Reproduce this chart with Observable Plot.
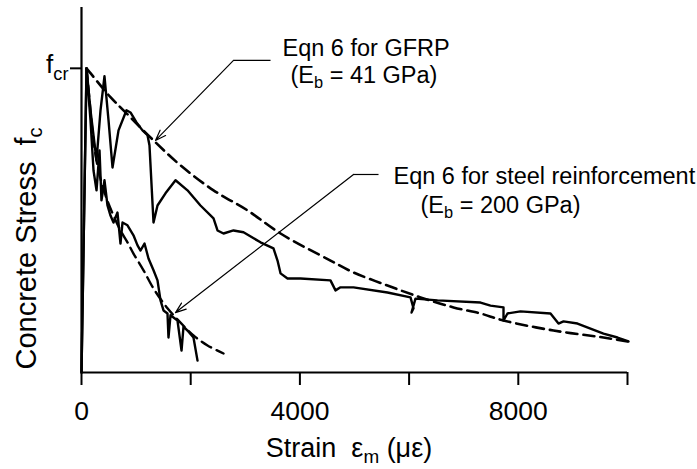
<!DOCTYPE html>
<html>
<head>
<meta charset="utf-8">
<script src="https://cdn.jsdelivr.net/npm/d3@7"></script>
<script src="https://cdn.jsdelivr.net/npm/@observablehq/plot@0.6"></script>
<style>
  html, body { margin: 0; padding: 0; background: white; }
  svg text { white-space: pre; }
</style>
</head>
<body>
<div id="chart"></div>
<script>
// Strain (microstrain), normalized concrete stress f_c / f_cr
const gfrpTest = [
  [0,0],[92,1.0],[165,0.862],[275,0.697],[348,0.862],[421,0.974],[495,0.829],[568,0.674],
  [678,0.796],[824,0.862],[897,0.855],[1007,0.822],[1117,0.796],[1209,0.780],[1245,0.747],
  [1319,0.493],[1392,0.549],[1538,0.589],[1722,0.632],[1941,0.599],[2179,0.549],[2418,0.507],
  [2491,0.467],[2601,0.457],[2784,0.467],[2967,0.461],[3278,0.428],[3516,0.408],[3590,0.368],
  [3645,0.326],[3773,0.309],[4011,0.309],[4560,0.303],[4652,0.270],[4744,0.280],[4982,0.280],
  [5604,0.263],[6026,0.247],[6081,0.211],[6044,0.197],[6117,0.243],[6520,0.237],[7308,0.230],
  [7491,0.220],[7729,0.214],[7729,0.171],[7802,0.194],[8040,0.201],[8590,0.194],[8736,0.161],
  [8828,0.168],[9084,0.161],[9560,0.128],[9817,0.115],[10018,0.102]
];
const gfrpModel = [
  [92,1.0],[165,0.984],[531,0.905],[769,0.862],[1319,0.763],[1813,0.681],[2418,0.599],
  [3040,0.533],[3645,0.457],[4560,0.368],[4982,0.329],[5604,0.286],[6209,0.247],[6813,0.214],
  [7308,0.194],[7729,0.171],[8645,0.138],[9560,0.115],[10000,0.102]
];
const steelTest = [
  [0,0],[92,1.0],[165,0.829],[220,0.664],[275,0.599],[330,0.730],[366,0.566],[421,0.632],
  [476,0.549],[531,0.516],[586,0.493],[659,0.526],[714,0.424],[751,0.493],[842,0.484],
  [952,0.451],[1026,0.418],[1081,0.401],[1154,0.424],[1227,0.375],[1319,0.336],[1392,0.303],
  [1447,0.237],[1502,0.204],[1575,0.194],[1593,0.115],[1630,0.188],[1758,0.171],[1832,0.072],
  [1868,0.151],[1941,0.138],[2051,0.115],[2125,0.039]
];
const steelModel = [
  [92,1.0],[147,0.895],[220,0.763],[311,0.664],[440,0.582],[586,0.516],[714,0.467],[842,0.428],
  [952,0.391],[1136,0.336],[1319,0.276],[1575,0.211],[1813,0.164],[2051,0.122],[2308,0.089],
  [2601,0.0625]
];
const xTicks = [0, 2000, 4000, 6000, 8000, 10000];
const xTickLabels = [0, 4000, 8000];
const yTicks = [1];
const yTickLabel = "f_{cr}";
const xLabel = "Strain  ε_{m} (με)";
const yLabel = "Concrete Stress  f_{c}";
// annotations: text lines and leader lines (data coordinates)
const notes = [
  {x: 3681, y: 1.064, text: "Eqn 6 for GFRP"},
  {x: 3828, y: 0.977, text: "(E_{b} = 41 GPa)"},
  {x: 5714, y: 0.643, text: "Eqn 6 for steel reinforcement"},
  {x: 6209, y: 0.549, text: "(E_{b} = 200 GPa)"}
];
const leaders = [
  {x1: 2784, y1: 1.026, x2: 3462, y2: 1.026},
  {x1: 4982, y1: 0.651, x2: 5440, y2: 0.651}
];
const arrows = [
  {x1: 2784, y1: 1.026, x2: 1355, y2: 0.763},
  {x1: 4982, y1: 0.651, x2: 1722, y2: 0.197}
];

const W = 697, H = 469;
const plot = Plot.plot({
  width: W, height: H,
  marginLeft: 81, marginRight: 70, marginTop: 7, marginBottom: 97,
  style: {fontFamily: "'Liberation Sans', Arial, sans-serif", background: "white", color: "black"},
  x: {domain: [0, 10000]},
  y: {domain: [0, 1.2]},
  marks: [
    Plot.axisX({ticks: xTicks, tickSize: 13, tickPadding: 16, fontSize: 26.5, strokeWidth: 2,
      tickFormat: d => xTickLabels.includes(d) ? String(d) : ""}),
    Plot.axisY({ticks: yTicks, tickSize: 11, strokeWidth: 2, tickFormat: () => ""}),
    Plot.ruleY([0], {strokeWidth: 2.2}),
    Plot.ruleX([0], {y1: 0, y2: 1.2, strokeWidth: 2.2}),
    Plot.line(gfrpModel, {x: d => d[0], y: d => d[1], curve: "catmull-rom", stroke: "black",
      strokeWidth: 2.6, strokeDasharray: "11,6"}),
    Plot.line(steelModel, {x: d => d[0], y: d => d[1], curve: "catmull-rom", stroke: "black",
      strokeWidth: 2.4, strokeDasharray: "11,6"}),
    Plot.line(gfrpTest, {x: d => d[0], y: d => d[1], stroke: "black", strokeWidth: 2.4,
      strokeLinejoin: "round"}),
    Plot.line(steelTest, {x: d => d[0], y: d => d[1], stroke: "black", strokeWidth: 2.4,
      strokeLinejoin: "round"}),
    Plot.link(leaders, {x1: "x1", y1: "y1", x2: "x2", y2: "y2", stroke: "black", strokeWidth: 1.2}),
    Plot.arrow(arrows, {x1: "x1", y1: "y1", x2: "x2", y2: "y2", stroke: "black", strokeWidth: 1.2,
      headLength: 14, headAngle: 40}),
    Plot.text(notes, {x: "x", y: "y", text: "text", textAnchor: "start", lineAnchor: "middle",
      fontSize: 23.5, fill: "black"}),
    Plot.text([{x: 0, y: 1, t: yTickLabel}], {x: "x", y: "y", text: "t", textAnchor: "end",
      lineAnchor: "middle", dx: -13, dy: -4, fontSize: 26, fill: "black"}),
    Plot.text([xLabel], {frameAnchor: "bottom", text: d => d, lineAnchor: "middle",
      dx: -5.5, dy: 76, fontSize: 27, fill: "black"}),
    Plot.text([{x: 0, y: 0.408, t: yLabel}], {x: "x", y: "y", text: "t", rotate: -90,
      lineAnchor: "middle", dx: -55, fontSize: 29, fill: "black"})
  ]
});
document.getElementById("chart").appendChild(plot);

// render _{...} as subscripts
const ns = "http://www.w3.org/2000/svg";
plot.querySelectorAll("text, tspan").forEach(el => {
  if (el.children.length) return;
  const s = el.textContent;
  if (!s.includes("_{")) return;
  const fs = parseFloat(getComputedStyle(el).fontSize);
  const shift = fs * (s.includes("_{cr}") ? 0.3 : 0.22);
  const parts = s.split(/(_\{[^}]*\})/);
  el.textContent = "";
  let shifted = false;
  for (const p of parts) {
    if (!p) continue;
    const t = document.createElementNS(ns, "tspan");
    if (p.startsWith("_{")) {
      t.textContent = p.slice(2, -1);
      t.setAttribute("font-size", (fs * 0.7).toFixed(1));
      t.setAttribute("dy", shift.toFixed(1));
      shifted = true;
    } else {
      t.textContent = p;
      if (shifted) { t.setAttribute("dy", (-shift).toFixed(1)); shifted = false; }
    }
    el.appendChild(t);
  }
});
</script>
</body>
</html>
